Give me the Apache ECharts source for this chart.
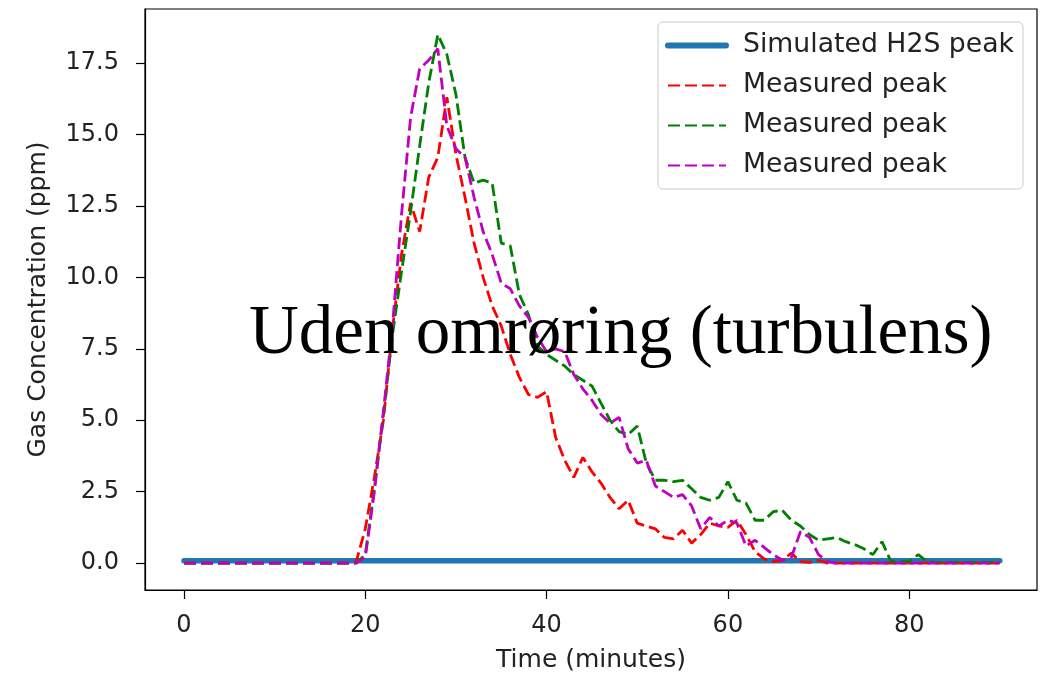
<!DOCTYPE html>
<html>
<head>
<meta charset="utf-8">
<title>Gas Concentration</title>
<script src="https://cdn.jsdelivr.net/npm/echarts@6.0.0/dist/echarts.min.js"></script>
<style>
  html, body { margin: 0; padding: 0; background: #fff; }
  #chart { width: 1048px; height: 674px; }
</style>
</head>
<body>
<div id="chart"></div>
<script>
// time in minutes
var time = [
  0, 1, 2, 3, 4, 5, 6, 7, 8, 9,
  10, 11, 12, 13, 14, 15, 16, 17, 18, 19,
  20, 21, 22, 23, 24, 25, 26, 27, 28, 29,
  30, 31, 32, 33, 34, 35, 36, 37, 38, 39,
  40, 41, 42, 43, 44, 45, 46, 47, 48, 49,
  50, 51, 52, 53, 54, 55, 56, 57, 58, 59,
  60, 61, 62, 63, 64, 65, 66, 67, 68, 69,
  70, 71, 72, 73, 74, 75, 76, 77, 78, 79,
  80, 81, 82, 83, 84, 85, 86, 87, 88, 89,
  90
];

var simulated = [
  0.08, 0.08, 0.08, 0.08, 0.08, 0.08, 0.08, 0.08, 0.08, 0.08,
  0.08, 0.08, 0.08, 0.08, 0.08, 0.08, 0.08, 0.08, 0.08, 0.08,
  0.08, 0.08, 0.08, 0.08, 0.08, 0.08, 0.08, 0.08, 0.08, 0.08,
  0.08, 0.08, 0.08, 0.08, 0.08, 0.08, 0.08, 0.08, 0.08, 0.08,
  0.08, 0.08, 0.08, 0.08, 0.08, 0.08, 0.08, 0.08, 0.08, 0.08,
  0.08, 0.08, 0.08, 0.08, 0.08, 0.08, 0.08, 0.08, 0.08, 0.08,
  0.08, 0.08, 0.08, 0.08, 0.08, 0.08, 0.08, 0.08, 0.08, 0.08,
  0.08, 0.08, 0.08, 0.08, 0.08, 0.08, 0.08, 0.08, 0.08, 0.08,
  0.08, 0.08, 0.08, 0.08, 0.08, 0.08, 0.08, 0.08, 0.08, 0.08,
  0.08
];

var measuredRed = [
  0, 0, 0, 0, 0, 0, 0, 0, 0, 0,
  0, 0, 0, 0, 0, 0, 0, 0, 0, 0.05,
  1.2, 3.0, 5.0, 8.2, 10.8, 12.6, 11.6, 13.5, 14.2, 16.3,
  14.3, 12.8, 11.2, 10.0, 9.0, 8.3, 7.3, 6.5, 5.9, 5.8,
  6.0, 4.4, 3.6, 3.0, 3.7, 3.2, 2.8, 2.3, 1.9, 2.2,
  1.4, 1.3, 1.2, 0.9, 0.85, 1.15, 0.7, 1.0, 1.4, 1.3,
  1.25, 1.5, 1.0, 0.4, 0.15, 0.05, 0.1, 0.35, 0.05, 0.03,
  0.1, 0, 0, 0, 0, 0, 0, 0, 0, 0,
  0, 0, 0, 0, 0, 0, 0, 0, 0, 0,
  0
];

var measuredGreen = [
  0, 0, 0, 0, 0, 0, 0, 0, 0, 0,
  0, 0, 0, 0, 0, 0, 0, 0, 0, 0,
  0.3, 2.6, 5.2, 8.0, 10.2, 12.3, 14.6, 16.8, 18.5, 17.8,
  16.4, 14.2, 13.3, 13.4, 13.3, 11.2, 11.1, 9.4, 8.7, 7.6,
  7.3, 7.1, 6.9, 6.6, 6.4, 6.2, 5.6, 5.0, 4.6, 4.5,
  4.8, 3.5, 2.9, 2.9, 2.85, 2.9, 2.6, 2.3, 2.2, 2.3,
  2.85, 2.2, 2.1, 1.5, 1.5, 1.8, 1.85, 1.5, 1.3, 1.0,
  0.8, 0.85, 0.9, 0.75, 0.65, 0.5, 0.3, 0.75, 0.05, 0.05,
  0.05, 0.3, 0.05, 0.02, 0.02, 0.02, 0.02, 0.02, 0.02, 0.02,
  0.02
];

var measuredMagenta = [
  0, 0, 0, 0, 0, 0, 0, 0, 0, 0,
  0, 0, 0, 0, 0, 0, 0, 0, 0, 0,
  0.2, 2.5, 5.3, 8.3, 12.2, 15.6, 17.3, 17.6, 18.0, 15.3,
  14.5, 14.2, 12.8, 11.6, 10.8, 9.8, 9.6, 9.0, 8.6, 7.9,
  7.4, 7.5, 7.4, 6.6, 6.1, 5.7, 5.2, 4.9, 5.1, 4.0,
  3.5, 3.6, 2.7, 2.5, 2.3, 2.4, 2.0, 1.2, 1.6, 1.3,
  1.5, 1.4, 0.6, 0.8, 0.55, 0.3, 0.1, 0.2, 1.1, 0.9,
  0.3, 0.05, 0, 0, 0, 0, 0, 0, 0, 0,
  0, 0, 0, 0, 0, 0, 0, 0, 0, 0,
  0
];

var xTicks = [0, 20, 40, 60, 80];
var yTicks = [0, 2.5, 5, 7.5, 10, 12.5, 15, 17.5];

var annotation = "Uden omrøring (turbulens)";

function pairs(values) {
  return time.map(function (t, i) { return [t, values[i]]; });
}

// three measured series need distinct names, the legend shows the same text
function legendName(name) {
  return name.replace(/ #\d$/, "");
}

var chart = echarts.init(document.getElementById("chart"));

var tickFont = {
  fontFamily: "DejaVu Sans",
  fontSize: 24,
  color: "#222"
};

var noSymbol = { opacity: 0 };

chart.setOption({
  animation: false,
  backgroundColor: "#fff",
  grid: {
    left: 145,
    right: 11,
    top: 9,
    bottom: 84,
    outerBoundsMode: "none",
    containLabel: false,
    show: true,
    borderColor: "#000",
    borderWidth: 1.2,
    backgroundColor: "transparent"
  },
  legend: {
    orient: "vertical",
    left: 658,
    top: 22,
    align: "left",
    itemWidth: 58,
    itemHeight: 14,
    itemGap: 13,
    padding: [10, 9, 10, 7],
    backgroundColor: "rgba(255,255,255,0.8)",
    borderColor: "#cccccc",
    borderWidth: 1,
    borderRadius: 5,
    formatter: legendName,
    textStyle: {
      fontFamily: "DejaVu Sans",
      fontSize: 26.7,
      color: "#222",
      padding: [0, 0, 0, 12]
    },
    data: [
      { name: "Simulated H2S peak", itemStyle: noSymbol, lineStyle: { width: 6 } },
      { name: "Measured peak #1", itemStyle: noSymbol },
      { name: "Measured peak #2", itemStyle: noSymbol },
      { name: "Measured peak #3", itemStyle: noSymbol }
    ]
  },
  xAxis: {
    type: "value",
    min: -4.3,
    max: 94.1,
    name: "Time (minutes)",
    nameLocation: "middle",
    nameGap: 58,
    nameTextStyle: { fontFamily: "DejaVu Sans", fontSize: 25, color: "#222" },
    axisLine: { show: true, onZero: false, lineStyle: { color: "#000", width: 1.2 } },
    axisTick: { show: true, length: 9, customValues: xTicks, lineStyle: { color: "#000", width: 1.2 } },
    axisLabel: Object.assign({ margin: 24, customValues: xTicks }, tickFont),
    splitLine: { show: false }
  },
  yAxis: {
    type: "value",
    min: -0.94,
    max: 19.39,
    name: "Gas Concentration (ppm)",
    nameLocation: "middle",
    nameGap: 94,
    nameTextStyle: { fontFamily: "DejaVu Sans", fontSize: 25, color: "#222" },
    axisLine: { show: true, onZero: false, lineStyle: { color: "#000", width: 1.2 } },
    axisTick: { show: true, length: 9, customValues: yTicks, lineStyle: { color: "#000", width: 1.2 } },
    axisLabel: Object.assign({
      margin: 26,
      customValues: yTicks,
      formatter: function (v) { return v.toFixed(1); }
    }, tickFont),
    splitLine: { show: false }
  },
  graphic: [
    {
      type: "text",
      left: 249,
      top: 300,
      z: 100,
      style: {
        text: annotation,
        fontFamily: "Liberation Serif",
        fontSize: 69,
        fill: "#000"
      }
    }
  ],
  series: [
    {
      name: "Simulated H2S peak",
      type: "line",
      data: pairs(simulated),
      symbol: "none",
      color: "#1f77b4",
      lineStyle: { width: 5.5, color: "#1f77b4", cap: "round" }
    },
    {
      name: "Measured peak #1",
      type: "line",
      data: pairs(measuredRed),
      symbol: "none",
      color: "#ff0000",
      lineStyle: { width: 2.8, color: "#ff0000", type: [12, 5] }
    },
    {
      name: "Measured peak #2",
      type: "line",
      data: pairs(measuredGreen),
      symbol: "none",
      color: "#008000",
      lineStyle: { width: 2.8, color: "#008000", type: [12, 5] }
    },
    {
      name: "Measured peak #3",
      type: "line",
      data: pairs(measuredMagenta),
      symbol: "none",
      color: "#bf00bf",
      lineStyle: { width: 2.8, color: "#bf00bf", type: [12, 5] }
    }
  ]
});
</script>
</body>
</html>
